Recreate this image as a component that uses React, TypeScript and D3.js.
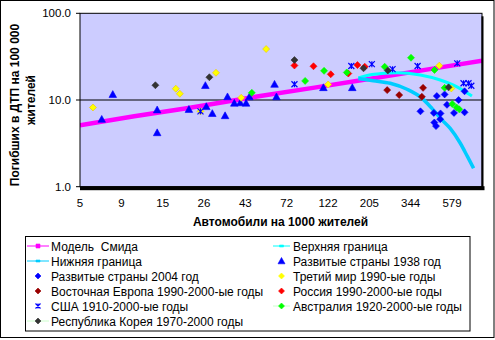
import React from 'react';
import * as d3 from 'd3';

// ---- axis ticks ----
const xTickLabels = ['5', '9', '15', '26', '43', '72', '122', '205', '344', '579'];
const yTickValues = [1, 10, 100];

// ---- lines ----
const smeedCars = [5, 10, 20, 50, 100, 200, 500, 851];
const smeedDeaths = [5.1, 6.5, 8.1, 11.1, 13.9, 17.5, 23.8, 28.4];
const upperCars = [175, 208, 286, 386, 498, 617, 747];
const upperDeaths = [18.0, 19.7, 20.6, 19.4, 17.0, 14.2, 11.1];
const lowerCars = [175, 212, 263, 326, 394, 448, 509, 566, 644, 706, 763];
const lowerDeaths = [17.7, 16.7, 15.6, 13.3, 10.5, 8.0, 5.9, 4.7, 3.17, 2.22, 1.63];

// ---- scatter series ----
const dev2004Cars = [387, 459, 500, 462, 472, 498, 477, 527, 543, 594, 630, 680, 680];
const dev2004Deaths = [7.4, 7.1, 7.0, 5.5, 5.0, 6.0, 11.1, 11.6, 8.8, 7.1, 10.0, 12.6, 7.2];
const dev1938Cars = [6.6, 7.6, 13.4, 13.4, 20.1, 24.8, 25.1, 27.1, 31.9, 32.9, 35.9, 38.7, 41.7, 43.5, 60.0, 61.5, 112, 162];
const dev1938Deaths = [6.0, 11.6, 7.7, 4.2, 7.8, 14.7, 8.4, 7.0, 6.6, 10.9, 9.2, 9.3, 9.2, 10.9, 15.2, 10.9, 13.9, 13.9];
const thirdCars = [5.9, 17.0, 17.9, 23.3, 28.4, 39.2, 53.9, 119, 492, 574];
const thirdDeaths = [8.2, 13.5, 11.8, 7.4, 20.6, 10.6, 38.7, 15.1, 24.9, 13.6];
const eastCars = [253, 295, 400, 394];
const eastDeaths = [13.0, 11.4, 13.8, 10.9];
const russiaCars = [77.4, 98.7, 123, 154, 173, 190];
const russiaDeaths = [25.0, 24.5, 19.8, 20.2, 25.3, 24.2];
const usaCars = [23.3, 77.4, 160, 208, 271, 373, 619, 671, 715, 741];
const usaDeaths = [7.4, 15.2, 24.7, 25.9, 22.7, 24.7, 26.5, 15.6, 15.6, 14.6];
const ausCars = [44.9, 88.7, 113, 151, 245, 343, 463, 527, 581, 614, 635];
const ausDeaths = [12.1, 16.6, 21.7, 20.8, 24.2, 30.7, 22.2, 13.8, 9.0, 8.2, 7.8];
const koreaCars = [13.1, 26.1, 77.4, 187, 255, 554];
const koreaDeaths = [14.8, 18.3, 28.9, 23.2, 21.9, 14.0];

const FONT = '"Liberation Sans", Arial, sans-serif';

type Marker = 'diamond' | 'triangle' | 'star' | 'square' | 'dash';

function markerPath(m: Marker, s: number): string {
  if (m === 'diamond') return `M0,${-s}L${s},0L0,${s}L${-s},0Z`;
  if (m === 'triangle') return `M0,${-s}L${s},${s * 0.8}L${-s},${s * 0.8}Z`;
  if (m === 'square') return `M${-s},${-s}H${s}V${s}H${-s}Z`;
  if (m === 'dash') return `M${-s},-1H${s}V1H${-s}Z`;
  return `M${-s},${-s}L${s},${s}M${-s},${s}L${s},${-s}M0,${-s}V${s}`;
}

function Sym({ m, cx, cy, s, color, stroke }: { m: Marker; cx: number; cy: number; s: number; color: string; stroke?: string }) {
  if (m === 'star') {
    return <path d={markerPath(m, s)} transform={`translate(${cx},${cy})`} fill="none" stroke={color} strokeWidth={1.2} />;
  }
  return <path d={markerPath(m, s)} transform={`translate(${cx},${cy})`} fill={color} stroke={stroke || color} strokeWidth={0.6} />;
}

export default function App() {
  const W = 495, H = 340;
  const left = 80, right = 482, top = 13.3, bottom = 186.7;
  const x = d3.scaleLog().domain([5, 579]).range([left, 452]);
  const y = d3.scaleLog().domain([1, 100]).range([bottom, top]);
  const r = Math.pow(579 / 5, 1 / 9);
  const xTicks = xTickLabels.map((_, i) => 5 * Math.pow(r, i));

  const zip = (a: number[], b: number[]) => a.map((v, i) => [v, b[i]] as [number, number]);
  const straight = d3.line<[number, number]>().x(d => x(d[0])).y(d => y(d[1]));
  const smooth = d3.line<[number, number]>().x(d => x(d[0])).y(d => y(d[1])).curve(d3.curveMonotoneX);

  const scatter: { name: string; cars: number[]; deaths: number[]; m: Marker; color: string; stroke?: string }[] = [
    { name: 'dev2004', cars: dev2004Cars, deaths: dev2004Deaths, m: 'diamond', color: '#0000FF' },
    { name: 'dev1938', cars: dev1938Cars, deaths: dev1938Deaths, m: 'triangle', color: '#0000FF' },
    { name: 'third', cars: thirdCars, deaths: thirdDeaths, m: 'diamond', color: '#FFFF00', stroke: '#E8C400' },
    { name: 'east', cars: eastCars, deaths: eastDeaths, m: 'diamond', color: '#990000' },
    { name: 'russia', cars: russiaCars, deaths: russiaDeaths, m: 'diamond', color: '#FF0000' },
    { name: 'usa', cars: usaCars, deaths: usaDeaths, m: 'star', color: '#0000FF' },
    { name: 'aus', cars: ausCars, deaths: ausDeaths, m: 'diamond', color: '#00FF00' },
    { name: 'korea', cars: koreaCars, deaths: koreaDeaths, m: 'diamond', color: '#333333' },
  ];

  const legendRows = [246, 261, 276, 291, 306, 321];
  const legendCol1 = [
    { label: 'Модель  Смида', line: '#FF00FF', m: 'square' as Marker, color: '#FF00FF' },
    { label: 'Нижняя граница', line: '#00CCFF', m: 'dash' as Marker, color: '#00CCFF' },
    { label: 'Развитые страны 2004 год', line: null, m: 'diamond' as Marker, color: '#0000FF' },
    { label: 'Восточная Европа 1990-2000-ые годы', line: null, m: 'diamond' as Marker, color: '#990000' },
    { label: 'США 1910-2000-ые годы', line: null, m: 'star' as Marker, color: '#0000FF' },
    { label: 'Республика Корея 1970-2000 годы', line: '#CCFFCC', m: 'diamond' as Marker, color: '#333333' },
  ];
  const legendCol2 = [
    { label: 'Верхняя граница', line: '#00FFFF', m: 'dash' as Marker, color: '#00FFFF' },
    { label: 'Развитые страны 1938 год', line: null, m: 'triangle' as Marker, color: '#0000FF' },
    { label: 'Третий мир 1990-ые годы', line: null, m: 'diamond' as Marker, color: '#FFFF00' },
    { label: 'Россия 1990-2000-ые годы', line: null, m: 'diamond' as Marker, color: '#FF0000' },
    { label: 'Австралия 1920-2000-ые годы', line: '#CCFFCC', m: 'diamond' as Marker, color: '#00FF00' },
  ];

  const renderLegend = (items: typeof legendCol1, lx0: number, lx1: number, tx: number) =>
    items.map((it, i) => {
      const cy = legendRows[i];
      const cx = (lx0 + lx1) / 2;
      return (
        <g key={it.label}>
          {it.line && <line x1={lx0} x2={lx1} y1={cy} y2={cy} stroke={it.line} strokeWidth={1} />}
          <Sym m={it.m} cx={cx} cy={cy} s={it.m === 'triangle' ? 3.5 : it.m === 'square' || it.m === 'dash' ? 2 : it.m === 'star' ? 2.5 : 3} color={it.color} />
          <text x={tx} y={cy + 4.5} fontSize={12} fontFamily={FONT} style={{ whiteSpace: 'pre' }}>{it.label}</text>
        </g>
      );
    });

  return (
    <svg width={W} height={H} style={{ position: 'absolute', left: 0, top: 0, background: '#fff' }}>
      <rect x={0.5} y={0.5} width={493.5} height={337} fill="#fff" stroke="#000" strokeWidth={1} />
      <defs>
        <clipPath id="plotClip">
          <rect x={left} y={top} width={right - left} height={bottom - top} />
        </clipPath>
      </defs>
      {/* plot area */}
      <rect x={left} y={top} width={right - left} height={bottom - top} fill="#CCCCFF" />
      <line x1={left} x2={right} y1={y(10)} y2={y(10)} stroke="#000" strokeWidth={1} />

      <g clipPath="url(#plotClip)">
        <path d={straight(zip(smeedCars, smeedDeaths)) || ''} fill="none" stroke="#FF00FF" strokeWidth={4.5} />
        <path d={smooth(zip(upperCars, upperDeaths)) || ''} fill="none" stroke="#00FFFF" strokeWidth={3} />
        <path d={smooth(zip(lowerCars, lowerDeaths)) || ''} fill="none" stroke="#00CCFF" strokeWidth={3.5} />
      </g>

      {scatter.map(s => (
        <g key={s.name}>
          {s.cars.map((c, i) => (
            <Sym key={i} m={s.m} cx={x(c)} cy={y(s.deaths[i])} s={s.m === 'triangle' ? 3.8 : s.m === 'star' ? 3 : 3.5} color={s.color} stroke={s.stroke} />
          ))}
        </g>
      ))}

      {/* plot border */}
      <rect x={left} y={top} width={right - left} height={bottom - top} fill="none" stroke="#000" strokeWidth={1} />
      <rect x={left} y={bottom - 0.5} width={right - left + 2.5} height={4} fill="#000" />
      <rect x={right - 0.5} y={top + 3} width={2} height={bottom - top} fill="#000" />

      {/* y axis */}
      {yTickValues.map(v => (
        <g key={v}>
          <line x1={left - 4} x2={left} y1={y(v)} y2={y(v)} stroke="#000" />
          <text x={left - 9} y={y(v) + 4} textAnchor="end" fontSize={11.5} fontFamily={FONT}>{d3.format('.1f')(v)}</text>
        </g>
      ))}
      {/* x axis */}
      {xTicks.map((v, i) => (
        <text key={i} x={x(v)} y={207} textAnchor="middle" fontSize={11.5} fontFamily={FONT}>{xTickLabels[i]}</text>
      ))}

      <text x={280.5} y={226} textAnchor="middle" fontSize={12} fontWeight="bold" fontFamily={FONT}>Автомобили на 1000 жителей</text>
      <text transform="translate(19,105) rotate(-90)" textAnchor="middle" fontSize={12} fontWeight="bold" fontFamily={FONT}>Погибших в ДТП на 100 000</text>
      <text transform="translate(34.5,100) rotate(-90)" textAnchor="middle" fontSize={12} fontWeight="bold" fontFamily={FONT}>жителей</text>

      {/* legend */}
      <rect x={25.5} y={236.5} width={444.5} height={94.5} fill="#fff" stroke="#000" strokeWidth={1} />
      {renderLegend(legendCol1, 27, 49, 51)}
      {renderLegend(legendCol2 as any, 273, 290, 293)}
    </svg>
  );
}
